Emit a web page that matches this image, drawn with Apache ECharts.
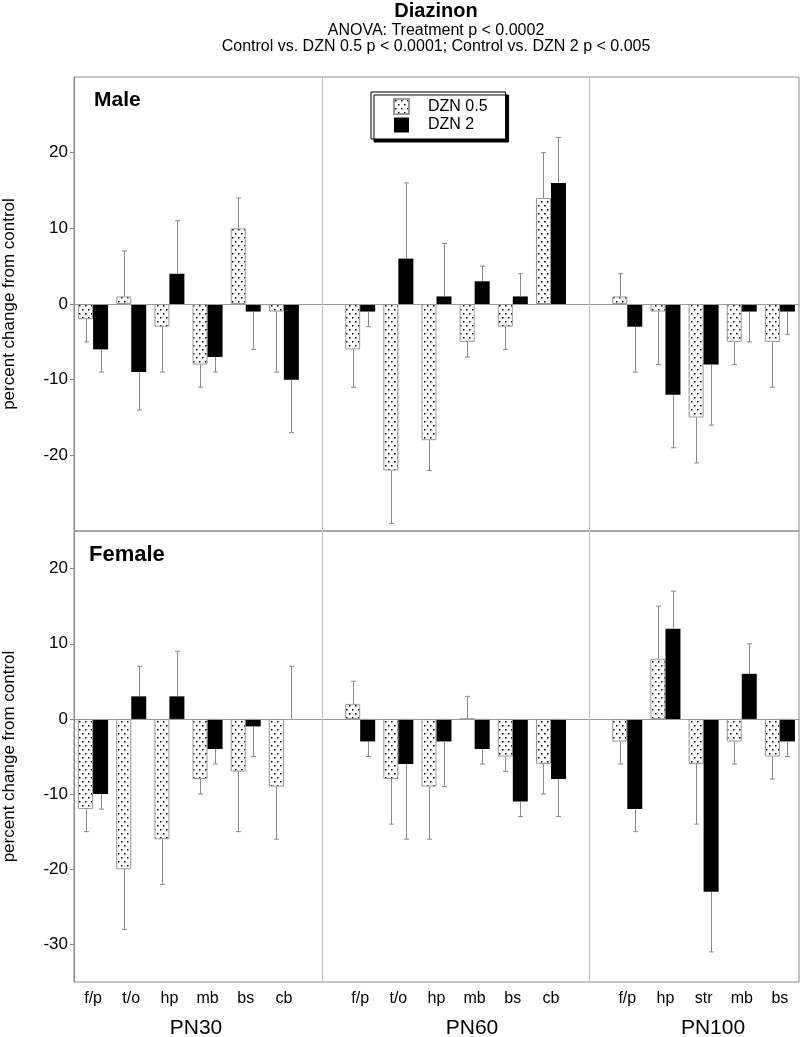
<!DOCTYPE html>
<html>
<head>
<meta charset="utf-8">
<title>Diazinon</title>
<script src="https://cdn.jsdelivr.net/npm/echarts@6/dist/echarts.min.js"></script>
<style>
  html, body { margin: 0; padding: 0; background: #fff; }
  #main { width: 800px; height: 1037px; }
</style>
</head>
<body>
<div id="main"></div>
<script>
// categories for each age group
var pn30Cats = ['f/p', 't/o', 'hp', 'mb', 'bs', 'cb'];
var pn60Cats = ['f/p', 't/o', 'hp', 'mb', 'bs', 'cb'];
var pn100Cats = ['f/p', 'hp', 'str', 'mb', 'bs'];
var ageGroups = ['PN30', 'PN60', 'PN100'];
var maleTicks = [-20, -10, 0, 10, 20];
var femaleTicks = [-30, -20, -10, 0, 10, 20];

// means (percent change) and error bar tips, PN30 | PN60 | PN100
var maleDzn05     = [-2, 1, -3, -8, 10, -1,   -6, -22, -18, -5, -3, 14,   1, -1, -15, -5, -5];
var maleDzn05Err  = [-5, 7, -9, -11, 14, -9,  -11, -29, -22, -7, -6, 20,  4, -8, -21, -8, -11];
var maleDzn2      = [-6, -9, 4, -7, -1, -10,  -1, 6, 1, 3, 1, 16,         -3, -12, -8, -1, -1];
var maleDzn2Err   = [-9, -14, 11, -9, -6, -17, -3, 16, 8, 5, 4, 22,       -9, -19, -16, -5, -4];
var femaleDzn05    = [-12, -20, -16, -8, -7, -9,   2, -8, -9, 0, -5, -6,     -3, 8, -6, -3, -5];
var femaleDzn05Err = [-15, -28, -22, -10, -15, -16, 5, -14, -16, 3, -7, -10, -6, 15, -14, -6, -8];
var femaleDzn2     = [-10, 3, 3, -4, -1, 0,    -3, -6, -3, -4, -11, -8,    -12, 12, -23, 6, -3];
var femaleDzn2Err  = [-12, 7, 9, -6, -5, 7,    -5, -16, -9, -6, -13, -13,  -15, 17, -31, 10, -5];

var FONT = '"Liberation Sans", Arial, Helvetica, sans-serif';
var GRAY = '#8a8a8a';

// blank slot between the age groups
var xCats = pn30Cats.concat([' ']).concat(pn60Cats).concat(['  ']).concat(pn100Cats);
function pad(arr) {
  return arr.slice(0, 6).concat(['-']).concat(arr.slice(6, 12)).concat(['-']).concat(arr.slice(12));
}
function errData(means, tips) {
  var m = pad(means), t = pad(tips), out = [];
  for (var i = 0; i < m.length; i++) {
    if (m[i] !== '-') out.push([i, m[i], t[i]]);
  }
  return out;
}

// dotted fill for DZN 0.5
var dotCanvas = document.createElement('canvas');
dotCanvas.width = 6; dotCanvas.height = 8;
var dctx = dotCanvas.getContext('2d');
dctx.fillStyle = '#fff';
dctx.fillRect(0, 0, 6, 8);
dctx.fillStyle = '#000';
dctx.fillRect(1, 1, 1.5, 1.5);
dctx.fillRect(4, 5, 1.5, 1.5);
var dotted = { image: dotCanvas, repeat: 'repeat' };

function errRenderer(side) {
  return function (params, api) {
    var x = api.value(0);
    var p0 = api.coord([x, api.value(1)]);
    var p1 = api.coord([x, api.value(2)]);
    var cx = Math.round(p0[0] + side * 7.5) + 0.5;
    var st = { stroke: GRAY, lineWidth: 1 };
    return {
      type: 'group',
      children: [
        { type: 'line', shape: { x1: cx, y1: p0[1], x2: cx, y2: p1[1] }, style: st },
        { type: 'line', shape: { x1: cx - 2.5, y1: p1[1], x2: cx + 2.5, y2: p1[1] }, style: st }
      ]
    };
  };
}

// zero line and the dividers between age groups (centre of the blank slots)
var guideLines = {
  silent: true,
  symbol: 'none',
  label: { show: false },
  animation: false,
  data: [
    { yAxis: 0, lineStyle: { color: '#999', width: 1, type: 'solid' } },
    { xAxis: 6, lineStyle: { color: '#c4c4c4', width: 1, type: 'solid' } },
    { xAxis: 13, lineStyle: { color: '#c4c4c4', width: 1, type: 'solid' } }
  ]
};

function panelSeries(idx, low, lowErr, high, highErr) {
  return [
    {
      name: 'DZN 0.5', type: 'bar', xAxisIndex: idx, yAxisIndex: idx,
      barWidth: 15, barGap: '0%',
      itemStyle: { color: dotted, borderColor: '#999', borderWidth: 1 },
      data: pad(low)
    },
    {
      name: 'DZN 2', type: 'bar', xAxisIndex: idx, yAxisIndex: idx,
      barWidth: 15, barGap: '0%',
      itemStyle: { color: '#000', borderWidth: 0 },
      data: pad(high)
    },
    {
      type: 'custom', xAxisIndex: idx, yAxisIndex: idx, silent: true,
      renderItem: errRenderer(-1), encode: { x: 0, y: [1, 2] },
      data: errData(low, lowErr), z: 3,
      markLine: guideLines
    },
    {
      type: 'custom', xAxisIndex: idx, yAxisIndex: idx, silent: true,
      renderItem: errRenderer(1), encode: { x: 0, y: [1, 2] },
      data: errData(high, highErr), z: 3
    }
  ];
}

function xAxisCfg(idx, showLabels) {
  return {
    type: 'category', gridIndex: idx, data: xCats,
    axisLine: { lineStyle: { color: GRAY } },
    axisTick: { inside: true, length: 7, interval: 0, lineStyle: { color: GRAY } },
    axisLabel: { show: showLabels, interval: 0, fontSize: 16, color: '#000', fontFamily: FONT, margin: 9 },
    splitLine: { show: false }
  };
}
function yAxisCfg(idx, min, max, ticks) {
  return {
    type: 'value', gridIndex: idx, min: min, max: max,
    name: 'percent change from control', nameLocation: 'middle', nameGap: 56,
    nameTextStyle: { fontSize: 17, color: '#000', fontFamily: FONT },
    axisLine: { show: true, lineStyle: { color: GRAY } },
    axisTick: { show: true, length: 4, customValues: ticks, lineStyle: { color: GRAY } },
    axisLabel: { fontSize: 17, color: '#000', fontFamily: FONT, margin: 6, customValues: ticks },
    splitLine: { show: false }
  };
}

var chart = echarts.init(document.getElementById('main'));
var option = {
  animation: false,
  backgroundColor: '#fff',
  textStyle: { fontFamily: FONT },
  grid: [
    { left: 74, right: 1, top: 77, height: 454, show: true, borderColor: GRAY, borderWidth: 1, outerBoundsMode: 'none', containLabel: false },
    { left: 74, right: 1, top: 531, height: 451, show: true, borderColor: GRAY, borderWidth: 1, outerBoundsMode: 'none', containLabel: false }
  ],
  legend: {
    data: ['DZN 0.5', 'DZN 2'],
    orient: 'vertical', left: 371, top: 92,
    icon: 'rect', itemWidth: 15, itemHeight: 15, itemGap: 2,
    padding: [6, 18, 6, 22],
    backgroundColor: '#fff', borderColor: '#000', borderWidth: 1,
    shadowColor: '#000', shadowBlur: 0, shadowOffsetX: 3, shadowOffsetY: 3,
    textStyle: { fontSize: 16, color: '#000', fontFamily: FONT, padding: [0, 0, 0, 14] },
    selectedMode: false
  },
  xAxis: [xAxisCfg(0, false), xAxisCfg(1, true)],
  yAxis: [yAxisCfg(0, -30, 30, maleTicks), yAxisCfg(1, -35, 25, femaleTicks)],
  graphic: [
    { type: 'text', x: 436, y: 11, style: { text: 'Diazinon', font: 'bold 20px ' + FONT, fill: '#000', align: 'center', verticalAlign: 'middle' } },
    { type: 'text', x: 436, y: 31, style: { text: 'ANOVA: Treatment p < 0.0002', font: '16px ' + FONT, fill: '#000', align: 'center', verticalAlign: 'middle' } },
    { type: 'text', x: 436, y: 47, style: { text: 'Control vs. DZN 0.5 p < 0.0001; Control vs. DZN 2 p < 0.005', font: '16px ' + FONT, fill: '#000', align: 'center', verticalAlign: 'middle' } },
    { type: 'text', x: 94, y: 100, style: { text: 'Male', font: 'bold 21px ' + FONT, fill: '#000', verticalAlign: 'middle' } },
    { type: 'text', x: 89, y: 555, style: { text: 'Female', font: 'bold 22px ' + FONT, fill: '#000', verticalAlign: 'middle' } },
    { type: 'text', x: 196, y: 1028, style: { text: ageGroups[0], font: '21px ' + FONT, fill: '#000', align: 'center', verticalAlign: 'middle' } },
    { type: 'text', x: 472, y: 1028, style: { text: ageGroups[1], font: '21px ' + FONT, fill: '#000', align: 'center', verticalAlign: 'middle' } },
    { type: 'text', x: 713, y: 1028, style: { text: ageGroups[2], font: '21px ' + FONT, fill: '#000', align: 'center', verticalAlign: 'middle' } }
  ],
  series: panelSeries(0, maleDzn05, maleDzn05Err, maleDzn2, maleDzn2Err)
    .concat(panelSeries(1, femaleDzn05, femaleDzn05Err, femaleDzn2, femaleDzn2Err))
};
chart.setOption(option);
</script>
</body>
</html>
